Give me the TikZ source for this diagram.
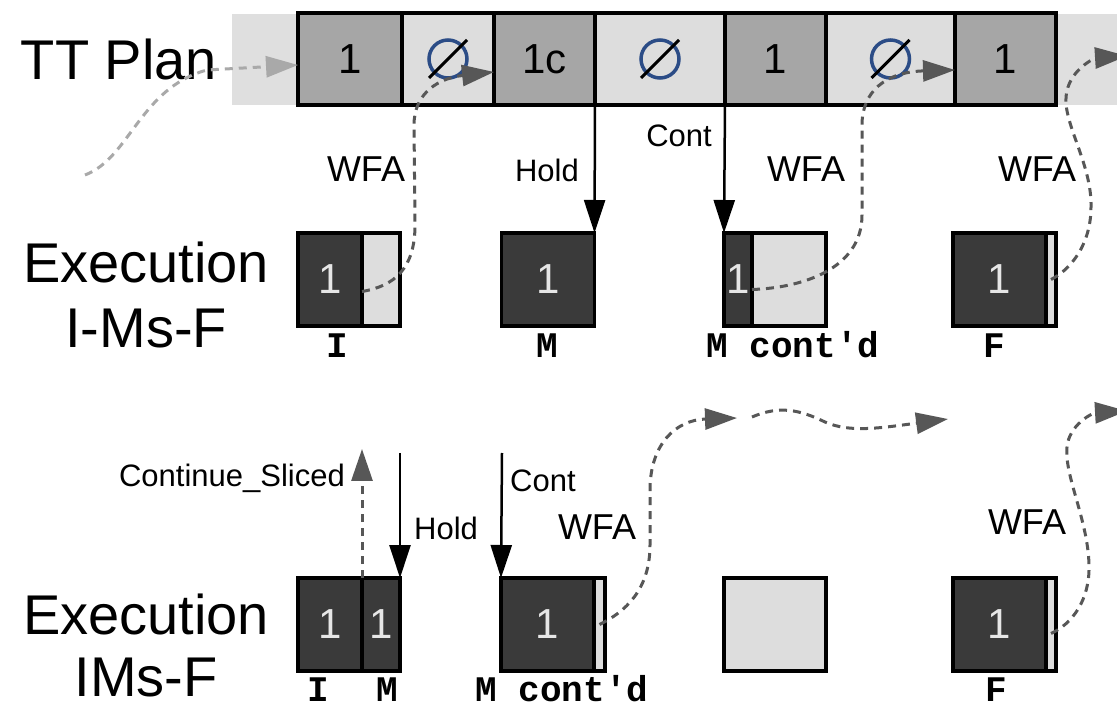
\documentclass[tikz,border=0pt]{standalone}
\usepackage{fontspec}
\setmainfont{Liberation Sans}
\setmonofont{Liberation Mono}
\usetikzlibrary{positioning}
\usetikzlibrary{arrows.meta}

\definecolor{bandgray}{HTML}{DFDFDF}
\definecolor{plandark}{HTML}{A6A6A6}
\definecolor{planlight}{HTML}{DDDDDD}
\definecolor{execdark}{HTML}{3A3A3A}
\definecolor{execlight}{HTML}{DDDDDD}
\definecolor{numgray}{HTML}{E6E6E6}
\definecolor{ringblue}{HTML}{2B4C86}
\definecolor{flowgray}{HTML}{575757}
\definecolor{startgray}{HTML}{A9A9A9}

\tikzset{
  plancell/.style={draw, line width=3.5pt, minimum height=92pt, inner sep=0pt, outer sep=0pt, font=\fontsize{42}{48}\selectfont},
  execcell/.style={draw, line width=3.5pt, minimum height=93pt, inner sep=0pt, outer sep=0pt, fill=execdark, text=numgray, font=\fontsize{42}{48}\selectfont},
  gapcell/.style={draw, line width=3.5pt, minimum height=93pt, inner sep=0pt, outer sep=0pt, fill=execlight},
  rowtitle/.style={anchor=base, inner sep=0pt, font=\fontsize{56}{64}\selectfont},
  phase/.style={anchor=base, inner sep=0pt, font=\fontsize{36}{40}\selectfont\ttfamily\bfseries},
  msg/.style={inner sep=0pt, font=\fontsize{31}{36}\selectfont},
  wfa/.style={anchor=base, inner sep=0pt, font=\fontsize{36}{40}\selectfont},
  nullring/.style={circle, draw=ringblue, line width=3.5pt, minimum size=38pt, inner sep=0pt},
  nullbar/.style={line width=3pt},
  push/.style={line width=2.5pt, -{Triangle[length=33pt,width=21pt]}},
  flow/.style={flowgray, line width=3pt, dash pattern=on 8pt off 6pt, -{Triangle[length=32pt,width=21pt]}},
}

\begin{document}
\begin{tikzpicture}[x=1pt,y=-1pt]

            %\draw [help lines] (0,0) grid[step=50] (1117,708);
            \useasboundingbox (0,0) rectangle (1117,708);
            \clip (0,0) rectangle (1117,708);

            % plan strip
            \fill[bandgray] (232,14) rectangle (1117,105);
            \node[rowtitle] (plan) at (119,80) {TT Plan};

            \node[plancell, fill=plandark, minimum width=104pt] (p1) at (350,59) {1};
            \node[plancell, fill=planlight, minimum width=92pt, right=0pt of p1] (p2) {};
            \node[plancell, fill=plandark, minimum width=101pt, right=0pt of p2] (p3) {1c};
            \node[plancell, fill=planlight, minimum width=130pt, right=0pt of p3] (p4) {};
            \node[plancell, fill=plandark, minimum width=101pt, right=0pt of p4] (p5) {1};
            \node[plancell, fill=planlight, minimum width=129pt, right=0pt of p5] (p6) {};
            \node[plancell, fill=plandark, minimum width=101pt, right=0pt of p6] (p7) {1};

            \foreach \s in {p2,p4,p6} {
                \node[nullring] at (\s) {};
                \draw[nullbar] (\s.center) ++(-19,19) -- ++(38,-38);
            }

            % first execution row
            \node[rowtitle] (exA) at (146,283) {Execution};
            \node[rowtitle] (exAsub) at (146,348) {I-Ms-F};

            \node[execcell, minimum width=64pt] (i1a) at (330,279.5) {1};
            \node[gapcell, minimum width=38pt, right=0pt of i1a] (i1b) {};
            \node[execcell, minimum width=93pt] (m1) at (548,279.5) {1};
            \node[execcell, minimum width=28pt] (c1a) at (738,279.5) {1};
            \node[gapcell, minimum width=74pt, right=0pt of c1a] (c1b) {};
            \node[execcell, minimum width=93pt] (f1a) at (999.5,279.5) {1};
            \node[gapcell, minimum width=10pt, right=0pt of f1a] (f1b) {};

            \node[phase] (lI1) at (337,358) {I};
            \node[phase] (lM1) at (547,358) {M};
            \node[phase] (lC1) at (793,358) {M cont\textquotesingle d};
            \node[phase] (lF1) at (994,358) {F};

            \draw[push] (p3.south east) -- (m1.north east);
            \draw[push] (p4.south east) -- (c1a.north west);
            \node[msg, anchor=base east] (hold1) at (579,182) {Hold};
            \node[msg, anchor=base east] (cont1) at (712,147) {Cont};
            \node[wfa] (wfa1) at (366,182) {WFA};
            \node[wfa] (wfa2) at (806,182) {WFA};
            \node[wfa] (wfa3) at (1037,182) {WFA};

            % second execution row
            \node[rowtitle] (exB) at (146,634) {Execution};
            \node[rowtitle] (exBsub) at (146,696) {IMs-F};

            \node[execcell, minimum width=64pt] (i2a) at (330,624.5) {1};
            \node[execcell, minimum width=38pt, right=0pt of i2a] (i2b) {1};
            \node[execcell, minimum width=93pt] (c2a) at (547.5,624.5) {1};
            \node[gapcell, minimum width=11pt, right=0pt of c2a] (c2b) {};
            \node[gapcell, minimum width=102pt] (e2) at (775,624.5) {};
            \node[execcell, minimum width=93pt] (f2a) at (999.5,624.5) {1};
            \node[gapcell, minimum width=10pt, right=0pt of f2a] (f2b) {};

            \node[phase] (lI2) at (318,701) {I};
            \node[phase] (lM2) at (387,701) {M};
            \node[phase] (lC2) at (562,701) {M cont\textquotesingle d};
            \node[phase] (lF2) at (996,701) {F};

            \coordinate (slicetop) at (362,449);
            \coordinate (holdsrc) at (400,453);
            \coordinate (contsrc) at (502,453);
            \draw[flow] (i2a.north east) -- (slicetop);
            \draw[push] (holdsrc) -- (i2b.north east);
            \draw[push] (contsrc) -- (c2a.north west);
            \node[msg, anchor=base east] (slice) at (345,486) {Continue\_Sliced};
            \node[msg, anchor=base west] (hold2) at (414,539) {Hold};
            \node[msg, anchor=base west] (cont2) at (510,492) {Cont};
            \node[wfa] (wfa4) at (597,539) {WFA};
            \node[wfa] (wfa5) at (1027,534) {WFA};

            % waiting-for-activation paths
            \coordinate (tail) at (85,175);
            \draw[flow, startgray] (tail) .. controls (130,158) and (140,88) .. (207,70) -- ([yshift=-6pt]p1.west);
            \draw[flow] ([yshift=-12pt]i1b.west) .. controls (395,286) and (415,268) .. (415,225) -- (414,125) .. controls (414,92) and (440,78) .. ([yshift=-13pt]p3.west);
            \draw[flow] ([yshift=-10pt]c1b.west) .. controls (800,288) and (862,270) .. (862,215) -- (862,125) .. controls (862,92) and (885,72) .. ([yshift=-11pt]p7.west);

            \coordinate (outA) at (1127,56);
            \draw[flow] (f1b.center) .. controls (1070,270) and (1091,245) .. (1091,207) .. controls (1092,165) and (1064,125) .. (1066,97) .. controls (1068,70) and (1095,58) .. (outA);

            \coordinate (waveA) at (737,418);
            \coordinate (waveB) at (752,417);
            \coordinate (waveC) at (948,419);
            \draw[flow] (c2b.center) .. controls (625,612) and (650,590) .. (650,545) -- (650,490) .. controls (650,445) and (675,420) .. (waveA);
            \draw[flow] (waveB) .. controls (780,405) and (800,410) .. (825,422) .. controls (850,433) and (880,428) .. (waveC);

            \coordinate (outB) at (1127,411);
            \draw[flow] ([yshift=-9pt]f2b.center) .. controls (1072,624) and (1090,600) .. (1089,565) .. controls (1088,520) and (1064,475) .. (1067,447) .. controls (1069,425) and (1092,413) .. (outB);

\end{tikzpicture}
\end{document}
